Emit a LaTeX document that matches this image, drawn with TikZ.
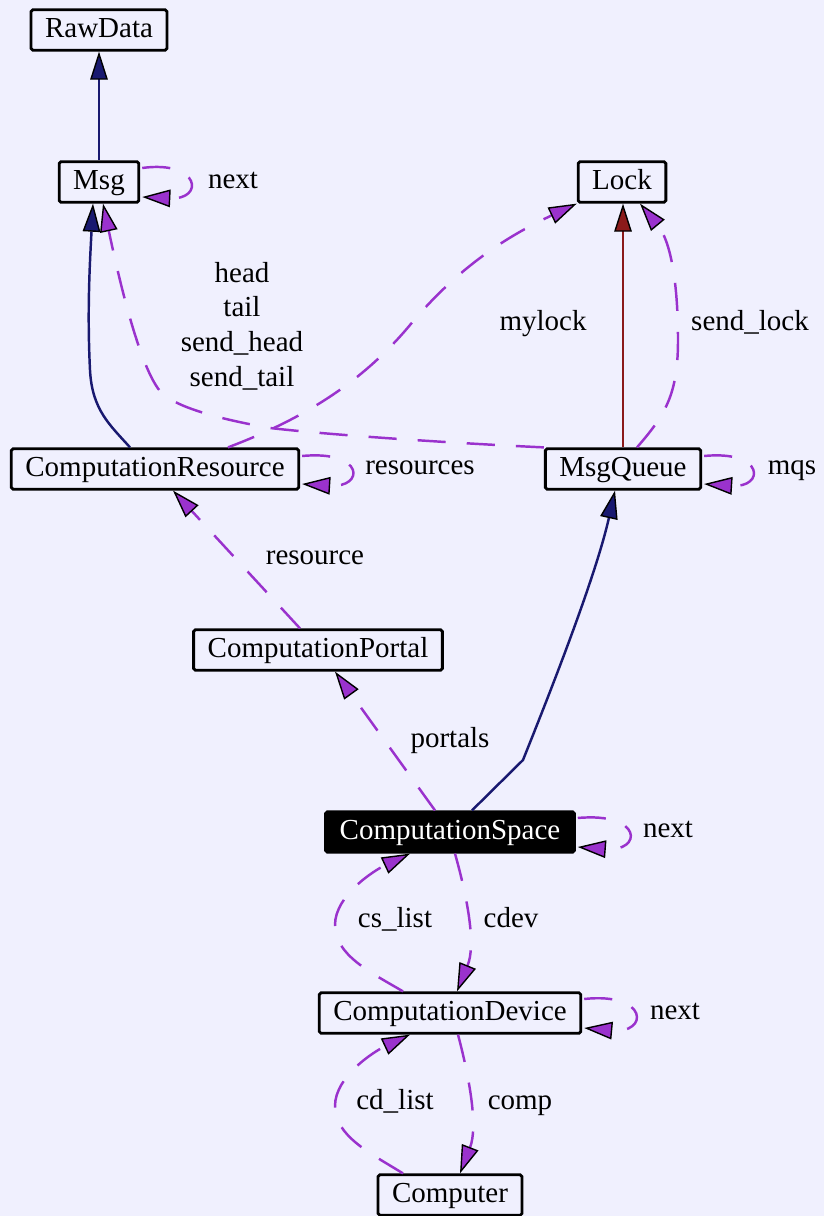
\documentclass[tikz,border=0pt]{standalone}
\usepackage{fontspec}
\setmainfont{Liberation Serif}
\usepackage{xcolor}
\usepackage{tikz}
\usetikzlibrary{positioning,arrows.meta}
\definecolor{collabbg}{RGB}{240,240,254}
\definecolor{collabblue}{RGB}{25,25,112}
\definecolor{collabpurple}{RGB}{154,50,205}
\definecolor{collabred}{RGB}{139,26,26}
\tikzset{
    collabclass/.style={draw, line width=1.6pt, rounded corners=1pt, fill=collabbg, font=\fontsize{16.5pt}{19.8pt}\selectfont, inner xsep=8pt, inner ysep=0pt, minimum height=23pt, text height=12pt, text depth=4pt},
    collabfocus/.style={collabclass, fill=black, text=white},
    collablabel/.style={align=center, inner sep=0pt, font=\fontsize{16.5pt}{19.8pt}\selectfont, text height=12pt, text depth=4pt},
    collabinherit/.style={draw=collabblue, line width=1.4pt, -{Triangle[length=16pt, width=10pt, color=black, fill=collabblue, line width=0.8pt]}},
    collabuse/.style={draw=collabpurple, line width=1.4pt, dash pattern=on 16pt off 12pt, -{Triangle[length=16pt, width=10pt, color=black, fill=collabpurple, line width=0.8pt]}},
    collabowner/.style={draw=collabred, line width=1.4pt, -{Triangle[length=16pt, width=10pt, color=black, fill=collabred, line width=0.8pt]}}
}

\begin{document}
\begin{tikzpicture}[x=0.02cm, y=-0.02cm]
    \fill[collabbg] (0,0) rectangle (824,1216);
    \useasboundingbox (0,0) rectangle (824,1216);

    % classes
    \node[collabclass] (rawdata) at (99,30) {RawData};
    \node[collabclass] (msg) at (99,182) {Msg};
    \node[collabclass] (lock) at (622,182) {Lock};
    \node[collabclass] (resource) at (155,469) {ComputationResource};
    \node[collabclass] (msgqueue) at (623,469) {MsgQueue};
    \node[collabclass] (portal) at (318,650) {ComputationPortal};
    \node[collabfocus] (space) at (450,832) {ComputationSpace};
    \node[collabclass] (device) at (450,1013) {ComputationDevice};
    \node[collabclass] (computer) at (450,1195) {Computer};

    % edge labels
    \node[collablabel] (msgnext) at (233,181) {next};
    \node[collablabel, text height={}, text depth={}] (msglinks) at (242,326) {head\\tail\\send\_head\\send\_tail};
    \node[collablabel] (mylock) at (543,323) {mylock};
    \node[collablabel] (sendlock) at (750,323) {send\_lock};
    \node[collablabel] (resources) at (420,467) {resources};
    \node[collablabel] (mqs) at (792,467) {mqs};
    \node[collablabel] (resourcelbl) at (315,557) {resource};
    \node[collablabel] (portals) at (450,740) {portals};
    \node[collablabel] (spacenext) at (668,830) {next};
    \node[collablabel] (cslist) at (395,920) {cs\_list};
    \node[collablabel] (cdev) at (511,920) {cdev};
    \node[collablabel] (devicenext) at (675,1012) {next};
    \node[collablabel] (cdlist) at (395,1102) {cd\_list};
    \node[collablabel] (comp) at (520,1102) {comp};

    % inheritance
    \draw[collabinherit] (msg.north) -- (rawdata.south);
    \draw[collabinherit] ([shift={(-25,0)}]resource.north) .. controls (110,425) and (92,410) .. (90,370)
        .. controls (87,310) and (90,260) .. ([shift={(-6,0)}]msg.south);
    \draw[collabinherit] ([shift={(22,0)}]space.north) -- (523,760)
        .. controls (545,705) and (595,580) .. ([shift={(-8,0)}]msgqueue.south);
    \draw[collabowner] (msgqueue.north) -- (msgqueue.north |- lock.south);

    % members
    \draw[collabuse] ([shift={(2,-14)}]msg.east) .. controls (200,160) and (205,200) .. ([shift={(2,15)}]msg.east);
    \draw[collabuse] (msgqueue.north west) .. controls (470,444) and (340,436) .. (270,428)
        .. controls (225,420) and (185,410) .. (165,396)
        .. controls (140,378) and (115,260) .. ([shift={(4,0)}]msg.south);
    \draw[collabuse] ([shift={(73,0)}]resource.north) .. controls (300,420) and (360,385) .. (410,325)
        .. controls (460,265) and (510,235) .. (lock.south west);
    \draw[collabuse] ([shift={(2,-13)}]resource.east) .. controls (365,450) and (365,488) .. ([shift={(2,15)}]resource.east);
    \draw[collabuse] ([shift={(14,0)}]msgqueue.north) .. controls (665,415) and (678,395) .. (678,340)
        .. controls (678,280) and (670,240) .. ([shift={(18,0)}]lock.south);
    \draw[collabuse] ([shift={(2,-13)}]msgqueue.east) .. controls (765,450) and (765,488) .. ([shift={(2,15)}]msgqueue.east);
    \draw[collabuse] ([shift={(-18,0)}]portal.north) -- ([shift={(18,0)}]resource.south);
    \draw[collabuse] ([shift={(-15,0)}]space.north) -- ([shift={(17,0)}]portal.south);
    \draw[collabuse] ([shift={(2,-14)}]space.east) .. controls (643,812) and (643,852) .. ([shift={(2,15)}]space.east);
    \draw[collabuse] ([shift={(-47,0)}]device.north) .. controls (370,972) and (335,955) .. (335,925)
        .. controls (335,895) and (375,870) .. ([shift={(-40,0)}]space.south);
    \draw[collabuse] ([shift={(5,0)}]space.south) .. controls (468,900) and (476,945) .. ([shift={(7,0)}]device.north);
    \draw[collabuse] ([shift={(2,-14)}]device.east) .. controls (649,992) and (649,1034) .. ([shift={(2,15)}]device.east);
    \draw[collabuse] ([shift={(-47,0)}]computer.north) .. controls (370,1153) and (335,1136) .. (335,1106)
        .. controls (335,1076) and (375,1051) .. ([shift={(-40,0)}]device.south);
    \draw[collabuse] ([shift={(8,0)}]device.south) .. controls (470,1080) and (478,1127) .. ([shift={(10,0)}]computer.north);
\end{tikzpicture}
\end{document}
